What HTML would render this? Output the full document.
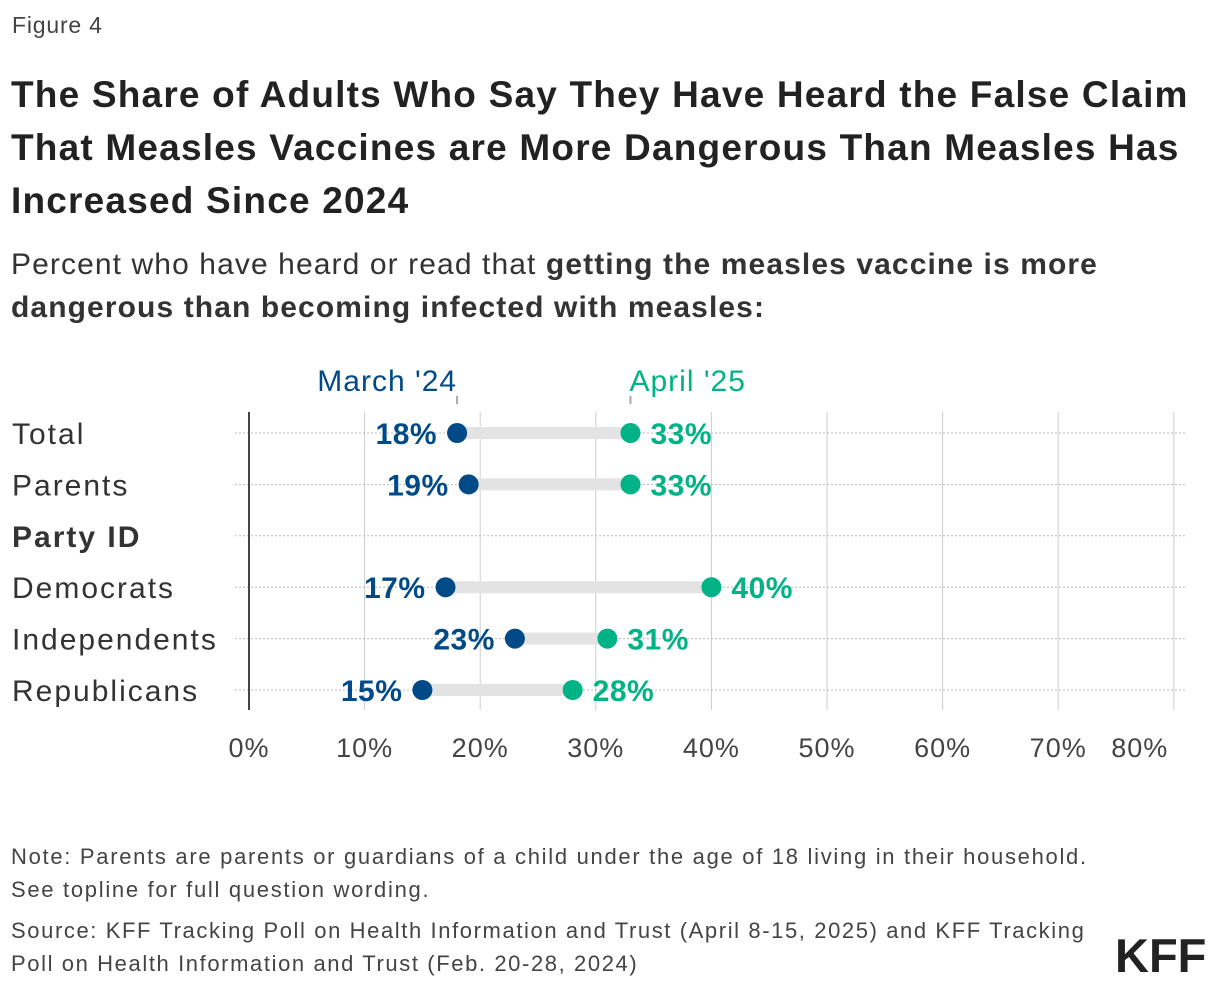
<!DOCTYPE html>
<html><head><meta charset="utf-8"><style>
body{margin:0;background:#fff;width:1220px;height:992px;overflow:hidden;font-family:"Liberation Sans",sans-serif;color:#333;}
.t{position:absolute;white-space:nowrap}
</style></head><body>
<div class="t" style="left:12px;top:12px;font-size:23px;color:#444;letter-spacing:0.8px">Figure 4</div>
<div class="t" style="left:11px;top:68px;font-size:37px;font-weight:bold;line-height:53px;color:#222;letter-spacing:1.2px">The Share of Adults Who Say They Have Heard the False Claim<br>That Measles Vaccines are More Dangerous Than Measles Has<br>Increased Since 2024</div>
<div class="t" style="left:11px;top:243px;font-size:30px;line-height:43px;color:#333;letter-spacing:1.1px">Percent who have heard or read that <b>getting the measles vaccine is more<br>dangerous than becoming infected with measles:</b></div>
<svg width="1220" height="992" style="position:absolute;left:0;top:0" id="svg"></svg>
<div class="t" style="left:11px;top:840px;font-size:22px;line-height:33px;color:#444;letter-spacing:1.7px">Note: Parents are parents or guardians of a child under the age of 18 living in their household.<br>See topline for full question wording.</div>
<div class="t" style="left:11px;top:914px;font-size:22px;line-height:33px;color:#444;letter-spacing:1.6px">Source: KFF Tracking Poll on Health Information and Trust (April 8-15, 2025) and KFF Tracking<br>Poll on Health Information and Trust (Feb. 20-28, 2024)</div>
<div class="t" style="left:1115px;top:928px;font-size:47px;font-weight:bold;color:#222;letter-spacing:0px">KFF</div>
<script>
const categories=["Total","Parents","Party ID","Democrats","Independents","Republicans"];
const march24=[18,19,null,17,23,15];
const april25=[33,33,null,40,31,28];
const ticks=[0,10,20,30,40,50,60,70,80];
const ns="http://www.w3.org/2000/svg";
const svg=document.getElementById('svg');
const x=v=>249+v*11.56;
const y=i=>433+i*51.4;
function el(t,a,txt){const e=document.createElementNS(ns,t);for(const k in a)e.setAttribute(k,a[k]);if(txt!=null)e.textContent=txt;svg.appendChild(e);return e;}
const F='"Liberation Sans",sans-serif';
ticks.forEach(t=>{
  if(t>0){const g=el('line',{x1:x(t),x2:x(t),y1:412,y2:710,stroke:'#ccc','stroke-width':1});
  }
  const tx=t===80?x(t)-34:x(t);
  const l=el('text',{x:tx,y:757,'text-anchor':'middle','font-size':27,fill:'#444','font-family':F,'letter-spacing':1},t+'%');
  
});
categories.forEach((c,i)=>{
  const g=el('line',{x1:235,x2:1187,y1:y(i),y2:y(i),stroke:'#bbb','stroke-width':1,'stroke-dasharray':'2,2'});
  
  const l=el('text',{x:12,y:y(i)+11,'font-size':30,fill:'#333','font-family':F,'font-weight':c==='Party ID'?'bold':'normal','letter-spacing':2},c);
  
  if(march24[i]==null)return;
  const a=march24[i],b=april25[i];
  const bar=el('line',{x1:x(a),x2:x(b),y1:y(i),y2:y(i),stroke:'#e3e3e3','stroke-width':12});
  
  const d1=el('circle',{cx:x(a),cy:y(i),r:10,fill:'#004a87'});
  
  const d2=el('circle',{cx:x(b),cy:y(i),r:10,fill:'#00b386'});
  
  const t1=el('text',{x:x(a)-20,y:y(i)+11,'text-anchor':'end','font-size':30,'font-weight':'bold',fill:'#004a87','font-family':F,'letter-spacing':0.5},a+'%');
  
  const t2=el('text',{x:x(b)+20,y:y(i)+11,'font-size':30,'font-weight':'bold',fill:'#00b386','font-family':F,'letter-spacing':0.5},b+'%');
  
});
const ax=el('line',{x1:249,x2:249,y1:412,y2:710,stroke:'#444','stroke-width':2});

[[march24[0],'#004a87',"March '24",'end'],[april25[0],'#00b386',"April '25",'start']].forEach(([v,c,s,anc])=>{
  const k=el('line',{x1:x(v),x2:x(v),y1:396,y2:404,stroke:'#aaa','stroke-width':2});
  
  const l=el('text',{x:anc==='end'?x(v):x(v)-1,y:391,'text-anchor':anc,'font-size':30,fill:c,'font-family':F,'letter-spacing':1},s);
  
});
</script>
</body></html>
